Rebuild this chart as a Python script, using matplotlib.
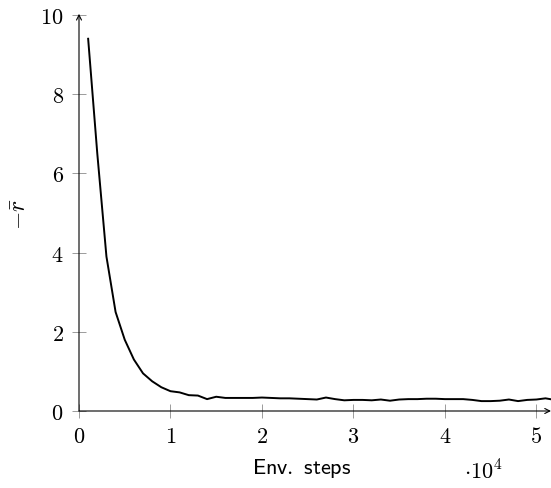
import matplotlib
matplotlib.use("Agg")
import matplotlib.pyplot as plt

plt.rcParams['mathtext.fontset'] = 'cm'

# mean negative reward, logged every 1000 env steps
steps = [1000 * k for k in range(1, 53)]
neg_reward = [
    9.4, 6.5, 3.9, 2.5, 1.8, 1.3, 0.95, 0.75, 0.6, 0.5,
    0.47, 0.40, 0.39, 0.30, 0.36, 0.33, 0.33, 0.33, 0.33, 0.34,
    0.33, 0.32, 0.32, 0.31, 0.30, 0.29, 0.34, 0.30, 0.27, 0.28,
    0.28, 0.27, 0.29, 0.26, 0.29, 0.30, 0.30, 0.31, 0.31, 0.30,
    0.30, 0.30, 0.28, 0.25, 0.25, 0.26, 0.29, 0.25, 0.28, 0.29,
    0.32, 0.28,
]
xticks = [0, 10000, 20000, 30000, 40000, 50000]
xtick_labels = ['0', '1', '2', '3', '4', '5']
yticks = [0, 2, 4, 6, 8, 10]

fig = plt.figure(figsize=(5.51, 4.89), dpi=100)
ax = fig.add_axes([79 / 551, 77 / 489, 472 / 551, 396 / 489])

ax.plot(steps, neg_reward, color='black', lw=1.4)
ax.set_xlim(0, 51600)
ax.set_ylim(0, 10)

# axis lines on the left/bottom only, with arrow heads
for s in ax.spines.values():
    s.set_visible(False)
arrow = dict(arrowstyle='->', lw=0.8, color='black', shrinkA=0, shrinkB=0,
             mutation_scale=9)
ax.annotate('', xy=(1, 0), xytext=(0, 0), xycoords='axes fraction', arrowprops=arrow,
            annotation_clip=False)
ax.annotate('', xy=(0, 1.003), xytext=(0, 0), xycoords='axes fraction', arrowprops=arrow,
            annotation_clip=False)

ax.set_xticks(xticks)
ax.set_xticklabels(['$%s$' % t for t in xtick_labels])
ax.set_yticks(yticks)
ax.set_yticklabels(['$%d$' % v for v in yticks])
ax.tick_params(direction='inout', length=10, width=0.6, color='0.55', labelsize=16)
ax.tick_params(axis='x', pad=6)
ax.tick_params(axis='y', pad=6)

ax.set_xlabel(r'$\mathsf{Env.\ steps}$', fontsize=16)
ax.xaxis.set_label_coords((302 - 79) / 472, -(457 - 412) / 396)
ax.set_ylabel(r'$-\bar{r}$', fontsize=17)
ax.yaxis.set_label_coords(-(79 - 31) / 472, 0.5)
fig.text(483 / 551, 1 - 471 / 489, r'$\cdot 10^4$', fontsize=16,
         ha='center', va='center')

fig.savefig('out.png', dpi=100)
